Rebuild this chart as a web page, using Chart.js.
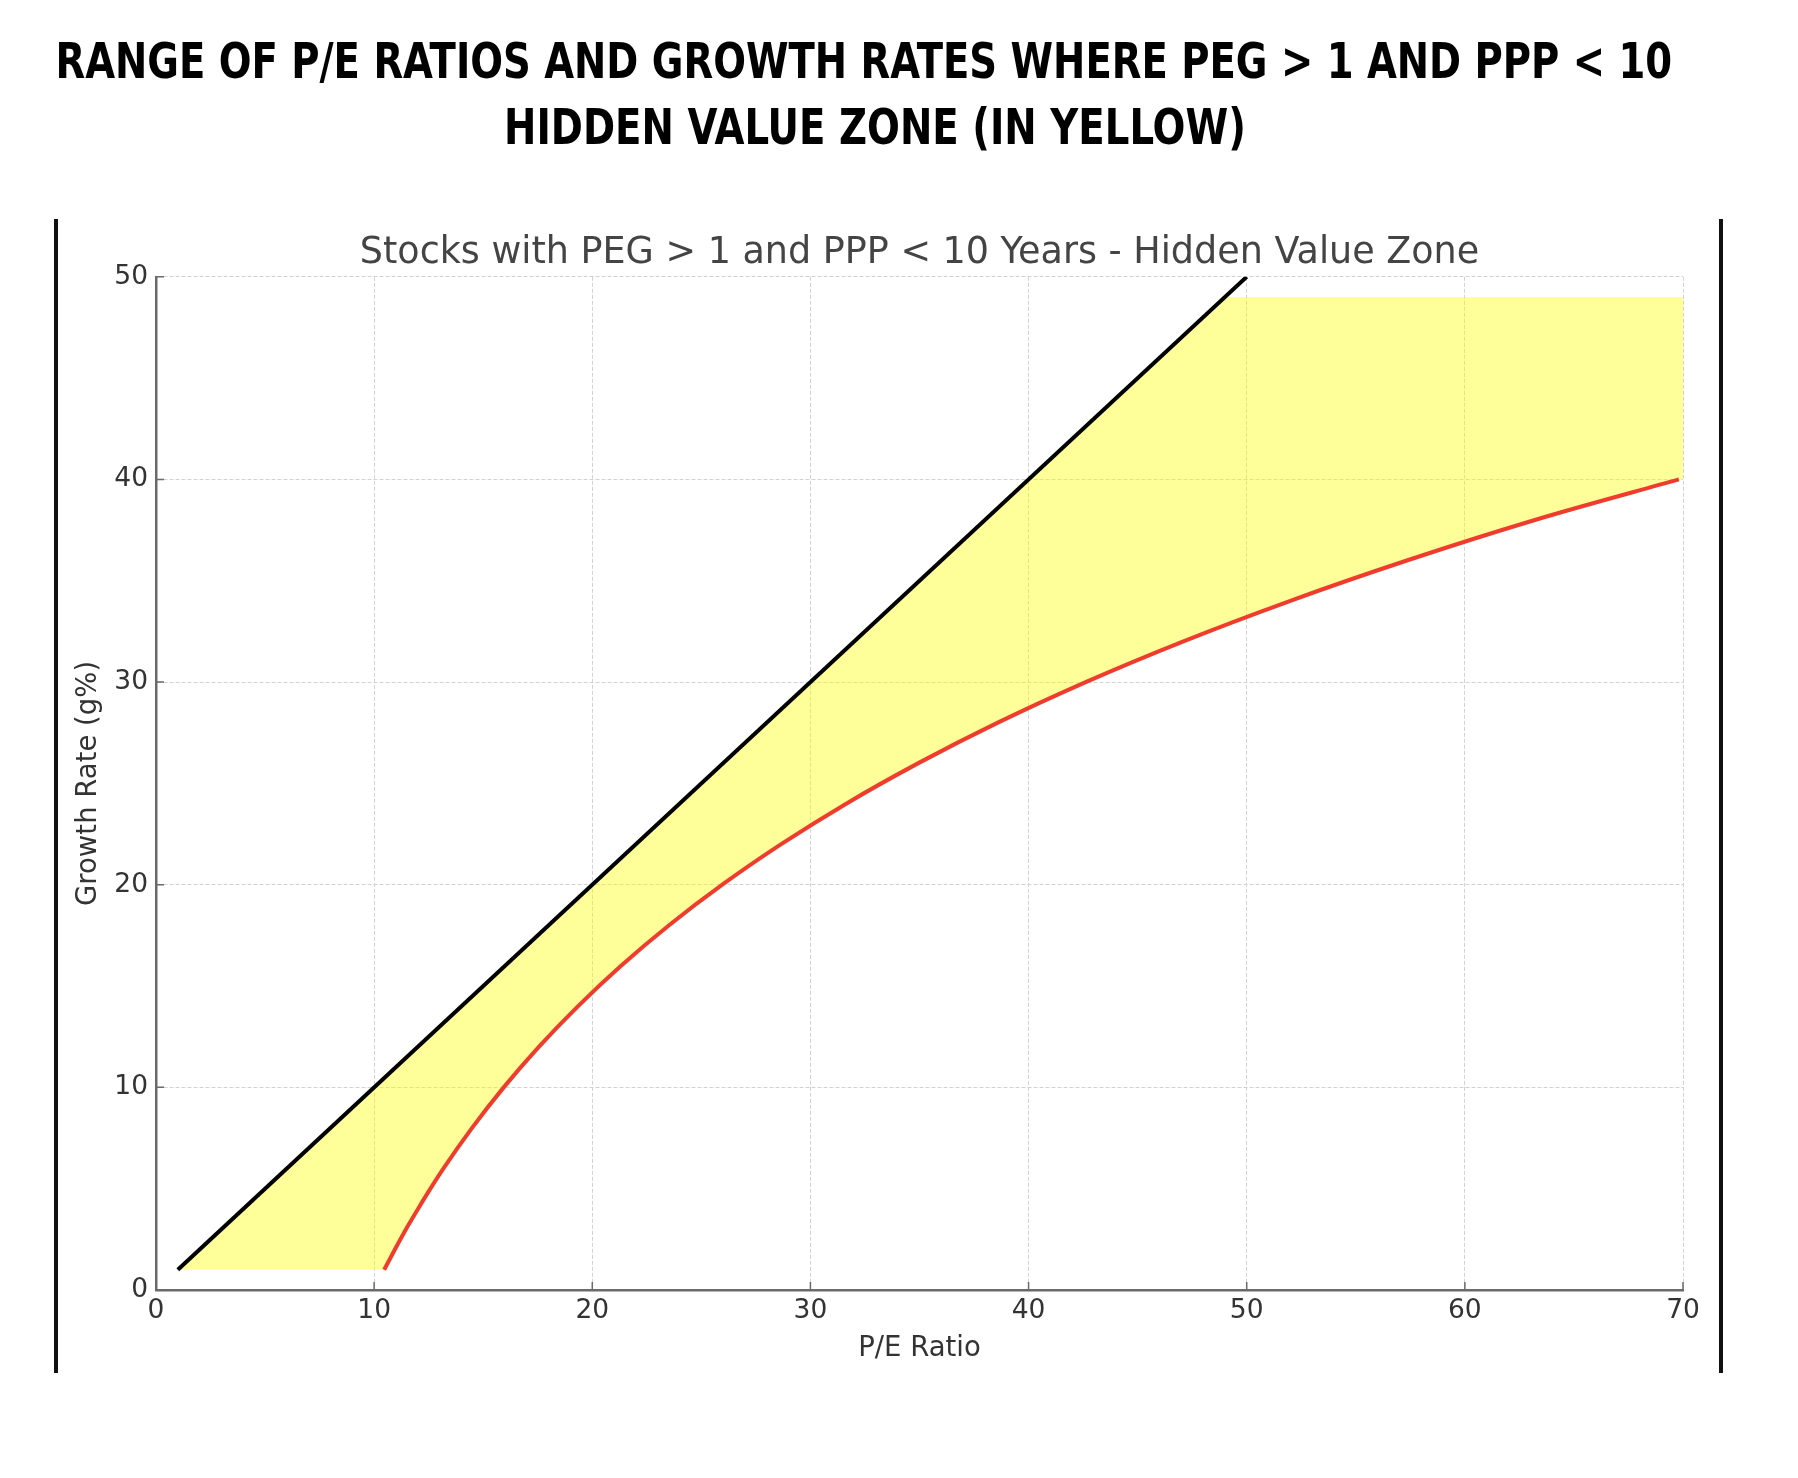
<!DOCTYPE html>
<html>
<head>
<meta charset="utf-8">
<script src="https://cdn.jsdelivr.net/npm/chart.js@4.4.0/dist/chart.umd.min.js"></script>
<style>
    html, body { margin: 0; padding: 0; background: #fff; }
    body { width: 1798px; height: 1478px; position: relative; overflow: hidden; }
    #wrap { position: absolute; left: 0; top: 0; width: 1798px; height: 1478px; }
    .heading {
        position: absolute;
        white-space: nowrap;
        font-family: "Liberation Sans Narrow", "DejaVu Sans Condensed", "Liberation Sans", sans-serif;
        font-weight: bold;
        font-size: 50px;
        line-height: 50px;
        color: #000;
        transform-origin: center center;
    }
    .frame { position: absolute; top: 219px; height: 1154px; width: 4px; background: #111; }
</style>
</head>
<body>
<div id="wrap"><canvas id="myChart" width="1798" height="1478"></canvas></div>
<div class="frame" style="left:54px"></div>
<div class="frame" style="left:1719px"></div>
<div class="heading" id="h1">RANGE OF P/E RATIOS AND GROWTH RATES WHERE PEG &gt; 1 AND PPP &lt; 10</div>
<div class="heading" id="h2">HIDDEN VALUE ZONE (IN YELLOW)</div>

<script>
// PEG = 1 line (growth rate equals P/E)
const pegPE = [1, 50];
const pegGrowth = [1, 50];

// PPP = 10 years boundary (red curve)
const pppGrowth = [1, 2, 3, 4, 5, 6, 8, 10, 12, 14, 16, 18, 20, 22, 24, 26, 28, 30, 32, 34, 36, 38, 40];
const pppPE = [10.46, 10.95, 11.46, 12.01, 12.58, 13.18, 14.49, 15.94, 17.55, 19.34, 21.32, 23.52,
    25.96, 28.66, 31.64, 34.95, 38.59, 42.62, 47.07, 51.97, 57.34, 63.21, 69.81];

// limits of the yellow zone
const zoneBottom = 1;
const zoneTop = 49;
const zoneRight = 70;

// axes
const xRange = [0, 70];
const yRange = [0, 50];
const tickStep = 10;

const chartTitle = 'Stocks with PEG > 1 and PPP < 10 Years - Hidden Value Zone';
const xLabel = 'P/E Ratio';
const yLabel = 'Growth Rate (g%)';

const pegLine = pegPE.map(function (x, i) { return { x: x, y: pegGrowth[i] }; });
const pppLine = pppPE.map(function (x, i) { return { x: x, y: pppGrowth[i] }; });

// zone outline: up the PEG line, across the top, down the right edge, back along the PPP curve
const zone = [{ x: pegPE[0], y: zoneBottom }, { x: zoneTop, y: zoneTop }, { x: zoneRight, y: zoneTop },
    { x: zoneRight, y: pppGrowth[pppGrowth.length - 1] }];
for (let i = pppLine.length - 1; i >= 0; i--) {
    zone.push(pppLine[i]);
}
zone.push({ x: pegPE[0], y: zoneBottom });

Chart.defaults.font.family = 'DejaVu Sans';

const axisGray = '#6a6a6a';

// matplotlib style ticks pointing inside the plot
const innerTicks = {
    id: 'innerTicks',
    afterDraw: function (chart) {
        const ctx = chart.ctx;
        const a = chart.chartArea;
        const xs = chart.scales.x;
        const ys = chart.scales.y;
        ctx.save();
        ctx.strokeStyle = axisGray;
        ctx.lineWidth = 1.5;
        ctx.beginPath();
        xs.ticks.forEach(function (t) {
            const px = xs.getPixelForValue(t.value);
            ctx.moveTo(px, a.bottom);
            ctx.lineTo(px, a.bottom - 8);
        });
        ys.ticks.forEach(function (t) {
            const py = ys.getPixelForValue(t.value);
            ctx.moveTo(a.left, py);
            ctx.lineTo(a.left + 8, py);
        });
        ctx.stroke();
        ctx.restore();
    }
};

const config = {
    type: 'line',
    data: {
        datasets: [
            {
                label: 'PEG = 1',
                data: pegLine,
                borderColor: '#000000',
                borderWidth: 4,
                pointRadius: 0,
                fill: false,
                order: 1
            },
            {
                label: 'PPP = 10 years',
                data: pppLine,
                borderColor: '#f03c2c',
                borderWidth: 4,
                pointRadius: 0,
                fill: false,
                cubicInterpolationMode: 'monotone',
                order: 2
            },
            {
                label: 'Hidden Value Zone',
                data: zone,
                borderWidth: 0,
                borderColor: 'rgba(0,0,0,0)',
                backgroundColor: 'rgba(255,255,0,0.4)',
                pointRadius: 0,
                fill: 'shape',
                order: 3
            }
        ]
    },
    options: {
        responsive: false,
        animation: false,
        layout: {
            padding: { left: 72, right: 115, top: 232, bottom: 113 }
        },
        plugins: {
            legend: { display: false },
            tooltip: { enabled: false },
            title: {
                display: true,
                fullSize: false,
                text: chartTitle,
                color: '#444444',
                font: { size: 36.5, weight: 'normal' },
                padding: { top: 0, bottom: 1 }
            }
        },
        scales: {
            x: {
                type: 'linear',
                min: xRange[0],
                max: xRange[1],
                ticks: {
                    stepSize: tickStep,
                    padding: 5,
                    color: '#333333',
                    font: { size: 26.5 },
                    maxRotation: 0
                },
                grid: { color: '#d2d2d2', lineWidth: 1, drawTicks: false },
                border: { color: axisGray, width: 2.5, dash: [4, 2] },
                title: {
                    display: true,
                    text: xLabel,
                    color: '#333333',
                    font: { size: 27.5 },
                    padding: 0
                },
                afterFit: function (s) { s.height = 75; }
            },
            y: {
                type: 'linear',
                min: yRange[0],
                max: yRange[1],
                ticks: {
                    stepSize: tickStep,
                    padding: 8,
                    color: '#333333',
                    font: { size: 26.5 }
                },
                grid: { color: '#d2d2d2', lineWidth: 1, drawTicks: false },
                border: { color: axisGray, width: 2.5, dash: [4, 2] },
                title: {
                    display: true,
                    text: yLabel,
                    color: '#333333',
                    font: { size: 27.5 },
                    padding: 0
                },
                afterFit: function (s) { s.width = 84; }
            }
        }
    },
    plugins: [innerTicks]
};

const myChart = new Chart(document.getElementById('myChart'), config);

function FitHeading(id, cx, top, w) {
    const el = document.getElementById(id);
    const sw = el.offsetWidth;
    el.style.left = (cx - sw / 2) + 'px';
    el.style.top = top + 'px';
    el.style.transform = 'scaleX(' + (w / sw) + ')';
}

FitHeading('h1', 863.5, 36, 1617);
FitHeading('h2', 875, 102, 742);
</script>
</body>
</html>
